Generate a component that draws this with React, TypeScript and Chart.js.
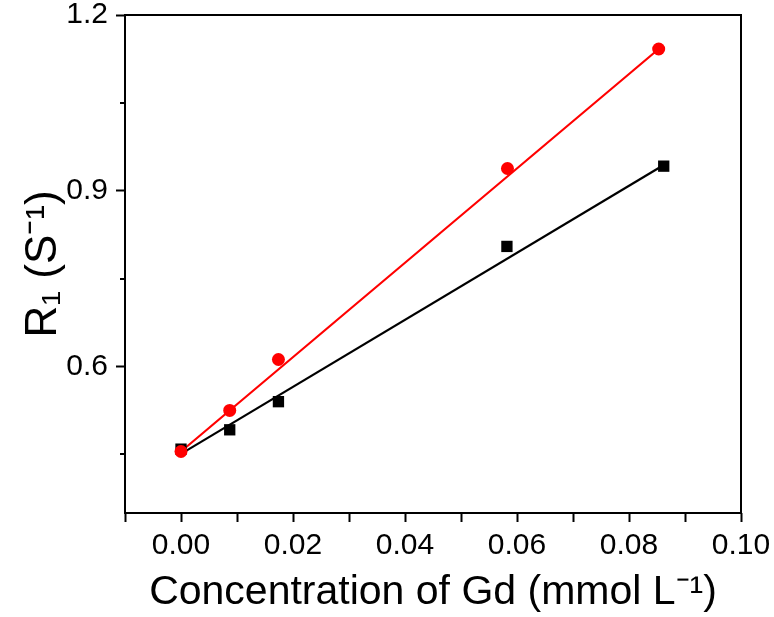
import React, { useEffect, useRef } from 'react';
import { Chart, registerables } from 'chart.js';

Chart.register(...registerables);

const blackConc = [0, 0.0087, 0.0174, 0.0582, 0.0862];
const blackR1 = [0.459, 0.492, 0.54, 0.805, 0.942];
const redConc = [0, 0.0087, 0.0174, 0.0583, 0.0853];
const redR1 = [0.455, 0.525, 0.612, 0.938, 1.142];

// Linear fit lines (end points)
const blackFitConc = [0, 0.0862];
const blackFitR1 = [0.451, 0.944];
const redFitConc = [0, 0.0853];
const redFitR1 = [0.455, 1.142];

// Axes
const xMin = -0.01;
const xMax = 0.1;
const yMin = 0.35;
const yMax = 1.2;
const xMajorTicks = [0, 0.02, 0.04, 0.06, 0.08, 0.1];
const xMinorTicks = [-0.01, 0.01, 0.03, 0.05, 0.07, 0.09];
const xTickLabels = ['0.00', '0.02', '0.04', '0.06', '0.08', '0.10'];
const yMajorTicks = [0.6, 0.9, 1.2];
const yMinorTicks = [0.45, 0.75, 1.05];
const yTickLabels = ['0.6', '0.9', '1.2'];
const xTitle = 'Concentration of Gd (mmol L\u207B\u00B9)';
const yTitle = 'R\u2081 (S\u207B\u00B9)';

const FONT = "'Liberation Sans', Arial, Helvetica, sans-serif";

const toPoints = (xs: number[], ys: number[]) => xs.map((x, i) => ({ x, y: ys[i] }));
const near = (a: number, b: number) => Math.abs(a - b) < 1e-9;

const framePlugin = {
  id: 'frame',
  afterDraw(chart: any) {
    const { ctx, chartArea, scales } = chart;
    const { left, right, top, bottom } = chartArea;
    ctx.save();
    ctx.strokeStyle = '#000';
    ctx.lineWidth = 2;
    ctx.strokeRect(left, top, right - left, bottom - top);
    // minor y ticks
    ctx.beginPath();
    yMinorTicks.forEach((v) => {
      const py = Math.round(scales.y.getPixelForValue(v));
      ctx.moveTo(left - 5, py);
      ctx.lineTo(left, py);
    });
    ctx.stroke();
    ctx.restore();
  },
};

export default function App() {
  const canvasRef = useRef<HTMLCanvasElement | null>(null);

  useEffect(() => {
    if (!canvasRef.current) return;
    const allX = [...xMajorTicks, ...xMinorTicks].sort((a, b) => a - b);
    const chart = new Chart(canvasRef.current, {
      type: 'scatter',
      data: {
        datasets: [
          {
            label: 'red',
            data: toPoints(redConc, redR1),
            backgroundColor: '#ff0000',
            borderColor: '#ff0000',
            pointStyle: 'circle',
            pointRadius: 6.5,
            borderWidth: 0,
            showLine: false,
          },
          {
            label: 'black',
            data: toPoints(blackConc, blackR1),
            backgroundColor: '#000000',
            borderColor: '#000000',
            pointStyle: 'rect',
            pointRadius: 8,
            borderWidth: 0,
            showLine: false,
          },
          {
            label: 'red fit',
            data: toPoints(redFitConc, redFitR1),
            borderColor: '#ff0000',
            borderWidth: 2.2,
            pointRadius: 0,
            showLine: true,
          },
          {
            label: 'black fit',
            data: toPoints(blackFitConc, blackFitR1),
            borderColor: '#000000',
            borderWidth: 2.2,
            pointRadius: 0,
            showLine: true,
          },
        ],
      },
      options: {
        responsive: false,
        animation: false,
        layout: { padding: { left: 0, right: 33, top: 15, bottom: 0 } },
        plugins: {
          legend: { display: false },
          tooltip: { enabled: false },
        },
        scales: {
          x: {
            type: 'linear',
            min: xMin,
            max: xMax,
            afterBuildTicks: (scale: any) => {
              scale.ticks = allX.map((v) => ({ value: v }));
            },
            afterFit: (scale: any) => {
              scale.height = 104;
              scale.paddingLeft = 0;
              scale.paddingRight = 0;
            },
            border: { display: false },
            grid: {
              drawOnChartArea: false,
              drawTicks: true,
              tickLength: 9,
              tickWidth: 2,
              tickColor: '#000',
            },
            ticks: {
              autoSkip: false,
              maxRotation: 0,
              padding: 6,
              color: '#000',
              font: { family: FONT, size: 30 },
              callback: (value: any) => {
                const i = xMajorTicks.findIndex((t) => near(t, Number(value)));
                return i >= 0 ? xTickLabels[i] : '';
              },
            },
            title: {
              display: true,
              text: xTitle,
              color: '#000',
              font: { family: FONT, size: 41 },
              padding: { top: 0, bottom: 0 },
            },
          },
          y: {
            type: 'linear',
            min: yMin,
            max: yMax,
            afterBuildTicks: (scale: any) => {
              scale.ticks = yMajorTicks.map((v) => ({ value: v }));
            },
            afterFit: (scale: any) => {
              scale.width = 125;
              scale.paddingTop = 0;
              scale.paddingBottom = 0;
            },
            border: { display: false },
            grid: {
              drawOnChartArea: false,
              drawTicks: true,
              tickLength: 9,
              tickWidth: 2,
              tickColor: '#000',
            },
            ticks: {
              autoSkip: false,
              padding: 8,
              color: '#000',
              font: { family: FONT, size: 30 },
              callback: (value: any) => {
                const i = yMajorTicks.findIndex((t) => near(t, Number(value)));
                return i >= 0 ? yTickLabels[i] : '';
              },
            },
            title: {
              display: true,
              text: yTitle,
              color: '#000',
              font: { family: FONT, size: 44 },
              padding: { top: 17, bottom: 0 },
            },
          },
        },
      },
      plugins: [framePlugin],
    } as any);
    return () => chart.destroy();
  }, []);

  return (
    <div style={{ position: 'fixed', left: 0, top: 0, width: 774, height: 617, background: '#fff' }}>
      <canvas ref={canvasRef} width={774} height={617} style={{ display: 'block' }} />
    </div>
  );
}
